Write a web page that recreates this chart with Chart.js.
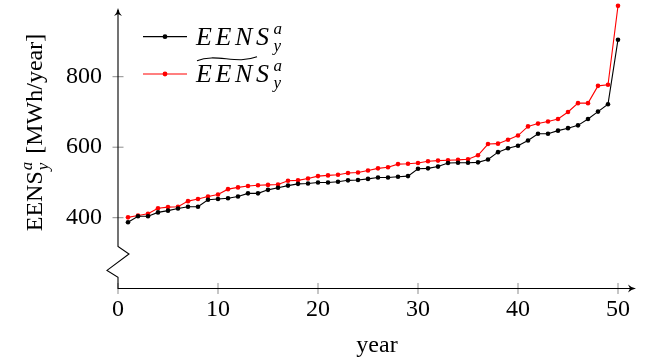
<!DOCTYPE html>
<html>
<head>
<meta charset="utf-8">
<script src="https://cdn.jsdelivr.net/npm/chart.js@4.4.1/dist/chart.umd.min.js"></script>
<style>
  html, body { margin: 0; padding: 0; background: #fff; }
  #wrap { width: 657px; height: 360px; }
</style>
</head>
<body>
<div id="wrap"><canvas id="c" width="657" height="360"></canvas></div>
<script>
// Years of the study horizon
const years = [1, 2, 3, 4, 5, 6, 7, 8, 9, 10,
  11, 12, 13, 14, 15, 16, 17, 18, 19, 20,
  21, 22, 23, 24, 25, 26, 27, 28, 29, 30,
  31, 32, 33, 34, 35, 36, 37, 38, 39, 40,
  41, 42, 43, 44, 45, 46, 47, 48, 49, 50];

// Expected energy not supplied per year [MWh/year], sorted
const eens = [387, 404, 404, 415, 420, 426, 431, 431, 451, 453,
  455, 460, 469, 469, 479, 485, 491, 496, 497, 500,
  500, 502, 506, 507, 510, 514, 514, 516, 518, 539,
  540, 545, 555, 556, 556, 557, 565, 586, 597, 604,
  619, 638, 638, 647, 654, 662, 680, 701, 722, 905];

// Estimated counterpart (tilde series)
const eensTilde = [401, 406, 411, 427, 430, 431, 447, 453, 460, 466,
  481, 486, 490, 492, 493, 494, 505, 506, 511, 518,
  520, 522, 527, 528, 534, 540, 543, 552, 553, 555,
  560, 562, 563, 564, 566, 577, 609, 610, 621, 633,
  659, 667, 673, 680, 700, 725, 725, 774, 777, 1001];

const xTickValues = [0, 10, 20, 30, 40, 50];
const yTickValues = [400, 600, 800];
const xRange = [0, 51.8];
const yRange = [197.7, 994.9];
// Broken y axis: values where the zigzag vertices sit
const yBreak = [318.6, 297, 250.5, 230.7];

const SERIF = 'Liberation Serif';
Chart.defaults.font.family = SERIF;

// Draw a run of text pieces; a piece with sup/sub stacks them
function drawRuns(ctx, x, y, runs, measureOnly) {
  let cx = x;
  for (const r of runs) {
    if (r.text !== undefined) {
      ctx.font = r.font;
      ctx.letterSpacing = r.spacing || '0px';
      if (!measureOnly) ctx.fillText(r.text, cx, y + (r.dy || 0));
      cx += ctx.measureText(r.text).width;
      ctx.letterSpacing = '0px';
    } else {
      ctx.font = r.font;
      const w1 = ctx.measureText(r.sup).width;
      const w2 = ctx.measureText(r.sub).width;
      if (!measureOnly) {
        ctx.fillText(r.sup, cx + (r.gap || 1), y + r.supDy);
        ctx.fillText(r.sub, cx + (r.gap || 1), y + r.subDy);
      }
      cx += Math.max(w1, w2) + (r.gap || 1) + (r.after || 0);
    }
  }
  return cx - x;
}

const decorations = {
  id: 'decorations',
  beforeDatasetsDraw(chart) {
    const { ctx, chartArea: a, scales: { x, y } } = chart;
    ctx.save();
    const ax = Math.round(x.getPixelForValue(0));
    const ay = Math.round(a.bottom) - 0.5;

    // ticks
    ctx.strokeStyle = 'rgba(0,0,0,0.45)';
    ctx.lineWidth = 1;
    for (const v of yTickValues) {
      const py = y.getPixelForValue(v);
      ctx.beginPath(); ctx.moveTo(ax - 5.5, py); ctx.lineTo(ax + 5.5, py); ctx.stroke();
    }
    for (const v of xTickValues) {
      const px = x.getPixelForValue(v);
      ctx.beginPath(); ctx.moveTo(px, ay - 5.5); ctx.lineTo(px, ay + 5.5); ctx.stroke();
    }

    // axis lines with a zigzag break on y
    ctx.strokeStyle = '#000';
    ctx.lineWidth = 1.1;
    ctx.beginPath();
    ctx.moveTo(ax, a.top + 2);
    ctx.lineTo(ax, y.getPixelForValue(yBreak[0]));
    ctx.lineTo(ax + 11, y.getPixelForValue(yBreak[1]));
    ctx.lineTo(ax - 11, y.getPixelForValue(yBreak[2]));
    ctx.lineTo(ax, y.getPixelForValue(yBreak[3]));
    ctx.lineTo(ax, ay);
    ctx.lineTo(a.right - 2, ay);
    ctx.stroke();

    // arrow heads
    ctx.fillStyle = '#000';
    ctx.beginPath();
    ctx.moveTo(ax, a.top);
    ctx.quadraticCurveTo(ax + 1, a.top + 5, ax + 4, a.top + 8);
    ctx.lineTo(ax, a.top + 6);
    ctx.lineTo(ax - 4, a.top + 8);
    ctx.quadraticCurveTo(ax - 1, a.top + 5, ax, a.top);
    ctx.fill();
    ctx.beginPath();
    ctx.moveTo(a.right, ay);
    ctx.quadraticCurveTo(a.right - 5, ay + 1, a.right - 8, ay + 4);
    ctx.lineTo(a.right - 6, ay);
    ctx.lineTo(a.right - 8, ay - 4);
    ctx.quadraticCurveTo(a.right - 5, ay - 1, a.right, ay);
    ctx.fill();

    // axis titles
    ctx.fillStyle = '#000';
    ctx.textBaseline = 'alphabetic';
    ctx.textAlign = 'left';
    ctx.font = '24px ' + SERIF;
    const tw = ctx.measureText('year').width;
    ctx.fillText('year', (a.left + a.right) / 2 - tw / 2, 352);

    const yTitle = [
      { text: 'EENS', font: '24px ' + SERIF },
      { sup: 'a', sub: 'y', font: 'italic 17px ' + SERIF, supDy: -10, subDy: 6, gap: 1, after: 2 },
      { text: ' [MWh/year]', font: '24px ' + SERIF }
    ];
    const w = drawRuns(ctx, 0, 0, yTitle, true);
    ctx.save();
    ctx.translate(42, (a.top + a.bottom) / 2 - 16 + w / 2);
    ctx.rotate(-Math.PI / 2);
    drawRuns(ctx, 0, 0, yTitle);
    ctx.restore();

    // legend
    const entries = [
      { ds: chart.data.datasets[0], ly: 36.7, tilde: false },
      { ds: chart.data.datasets[1], ly: 74, tilde: true }
    ];
    for (const e of entries) {
      const lx = a.left + 25;
      ctx.strokeStyle = e.ds.borderColor;
      ctx.lineWidth = 1.2;
      ctx.beginPath(); ctx.moveTo(lx, e.ly); ctx.lineTo(lx + 44, e.ly); ctx.stroke();
      ctx.fillStyle = e.ds.pointBackgroundColor;
      ctx.beginPath(); ctx.arc(lx + 22, e.ly, 2.4, 0, Math.PI * 2); ctx.fill();

      ctx.fillStyle = '#000';
      const tx = lx + 53, base = e.ly + 7.8;
      drawRuns(ctx, tx, base, [
        { text: 'EENS', font: 'italic 26px ' + SERIF, spacing: '3.6px' },
        { sup: 'a', sub: 'y', font: 'italic 17px ' + SERIF, supDy: -11, subDy: 6, gap: 1 }
      ]);
      if (e.tilde) {
        ctx.strokeStyle = '#000';
        ctx.lineWidth = 1.1;
        ctx.beginPath();
        ctx.moveTo(tx + 1, base - 21);
        ctx.bezierCurveTo(tx + 20, base - 29, tx + 40, base - 17, tx + 61, base - 25);
        ctx.stroke();
      }
    }
    ctx.restore();
  }
};

new Chart(document.getElementById('c'), {
  type: 'line',
  data: {
    labels: years,
    datasets: [
      {
        label: 'EENS',
        data: years.map((yr, i) => ({ x: yr, y: eens[i] })),
        borderColor: '#000000',
        backgroundColor: '#000000',
        pointBackgroundColor: '#000000',
        borderWidth: 1.1,
        pointRadius: 2.3,
        pointBorderWidth: 0,
        tension: 0,
        clip: false
      },
      {
        label: 'EENS tilde',
        data: years.map((yr, i) => ({ x: yr, y: eensTilde[i] })),
        borderColor: '#ff0000',
        backgroundColor: '#ff0000',
        pointBackgroundColor: '#ff0000',
        borderWidth: 1.1,
        pointRadius: 2.3,
        pointBorderWidth: 0,
        tension: 0,
        clip: false
      }
    ]
  },
  options: {
    responsive: false,
    animation: false,
    devicePixelRatio: 1,
    layout: { padding: { left: 0, right: 21, top: 8, bottom: 0 } },
    plugins: { legend: { display: false }, tooltip: { enabled: false } },
    scales: {
      x: {
        type: 'linear',
        min: xRange[0], max: xRange[1],
        border: { display: false },
        grid: { display: false, drawTicks: false, tickLength: 0 },
        afterBuildTicks: s => { s.ticks = xTickValues.map(v => ({ value: v })); },
        afterFit: s => { s.height = 71; s.paddingLeft = 0; s.paddingRight = 0; },
        ticks: { color: '#000', font: { family: SERIF, size: 24 }, padding: 6, maxRotation: 0, autoSkip: false }
      },
      y: {
        type: 'linear',
        min: yRange[0], max: yRange[1],
        border: { display: false },
        grid: { display: false, drawTicks: false, tickLength: 0 },
        afterBuildTicks: s => { s.ticks = yTickValues.map(v => ({ value: v })); },
        afterFit: s => { s.width = 118; s.paddingTop = 0; s.paddingBottom = 0; },
        ticks: { color: '#000', font: { family: SERIF, size: 24 }, padding: 16 }
      }
    }
  },
  plugins: [decorations]
});
</script>
</body>
</html>
